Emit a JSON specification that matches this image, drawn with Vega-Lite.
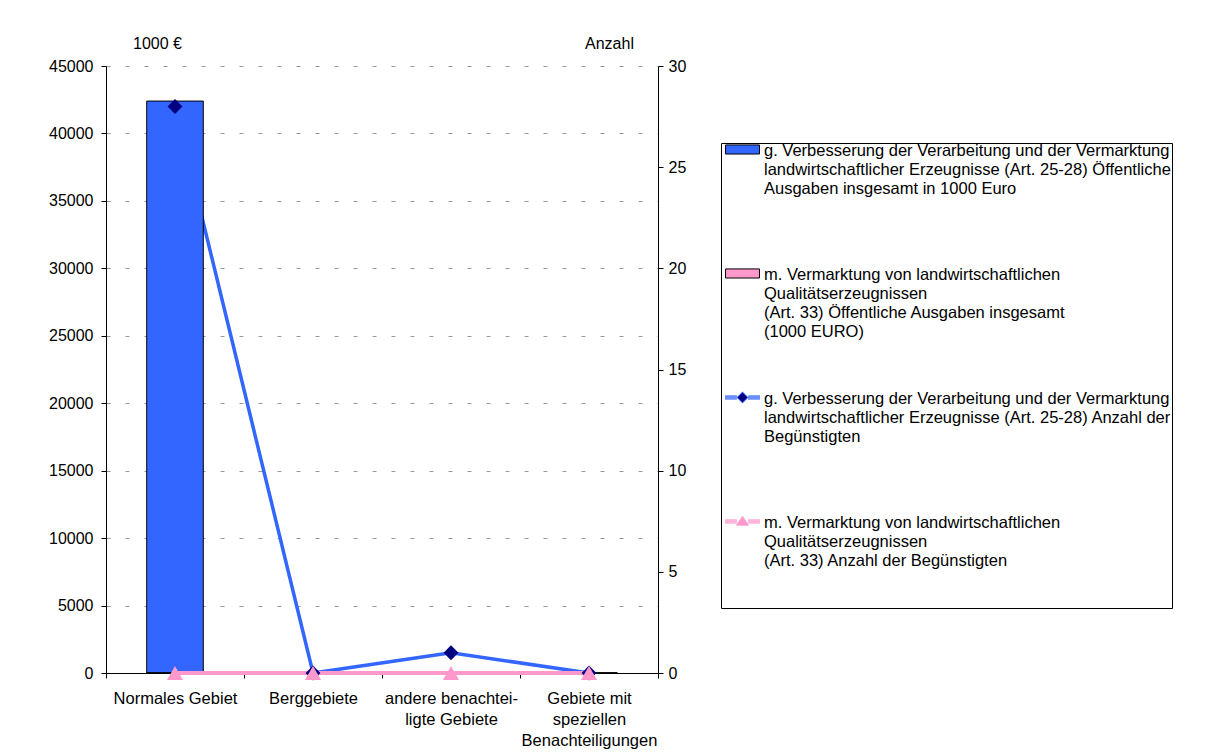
{
  "$schema": "https://vega.github.io/schema/vega-lite/v6.json",
  "width": 552,
  "height": 607,
  "autosize": {"type": "none"},
  "padding": {"left": 106, "top": 66, "right": 549, "bottom": 80},
  "background": "#ffffff",
  "config": {
    "font": "Liberation Sans",
    "view": {"stroke": null},
    "axis": {
      "labelFont": "Liberation Sans",
      "labelFontSize": 16,
      "labelColor": "#000000",
      "titleFont": "Liberation Sans",
      "titleFontSize": 16,
      "titleFontWeight": "normal",
      "titleColor": "#000000",
      "domainColor": "#000000",
      "tickColor": "#000000",
      "tickSize": 5,
      "domainWidth": 1,
      "tickWidth": 1
    }
  },
  "data": {
    "values": [
      {"gebiet": "Normales Gebiet", "programm": "g", "kennzahl": "Ausgaben", "reihe": "g. Verbesserung der Verarbeitung und der Vermarktung\nlandwirtschaftlicher Erzeugnisse (Art. 25-28) Öffentliche\nAusgaben insgesamt in 1000 Euro", "wert": 42400},
      {"gebiet": "Berggebiete", "programm": "g", "kennzahl": "Ausgaben", "reihe": "g. Verbesserung der Verarbeitung und der Vermarktung\nlandwirtschaftlicher Erzeugnisse (Art. 25-28) Öffentliche\nAusgaben insgesamt in 1000 Euro", "wert": 0},
      {"gebiet": "andere benachteiligte Gebiete", "programm": "g", "kennzahl": "Ausgaben", "reihe": "g. Verbesserung der Verarbeitung und der Vermarktung\nlandwirtschaftlicher Erzeugnisse (Art. 25-28) Öffentliche\nAusgaben insgesamt in 1000 Euro", "wert": 100},
      {"gebiet": "Gebiete mit speziellen Benachteiligungen", "programm": "g", "kennzahl": "Ausgaben", "reihe": "g. Verbesserung der Verarbeitung und der Vermarktung\nlandwirtschaftlicher Erzeugnisse (Art. 25-28) Öffentliche\nAusgaben insgesamt in 1000 Euro", "wert": 0},
      {"gebiet": "Normales Gebiet", "programm": "m", "kennzahl": "Ausgaben", "reihe": "m. Vermarktung von landwirtschaftlichen\nQualitätserzeugnissen\n(Art. 33) Öffentliche Ausgaben insgesamt\n(1000 EURO)", "wert": 0},
      {"gebiet": "Berggebiete", "programm": "m", "kennzahl": "Ausgaben", "reihe": "m. Vermarktung von landwirtschaftlichen\nQualitätserzeugnissen\n(Art. 33) Öffentliche Ausgaben insgesamt\n(1000 EURO)", "wert": 0},
      {"gebiet": "andere benachteiligte Gebiete", "programm": "m", "kennzahl": "Ausgaben", "reihe": "m. Vermarktung von landwirtschaftlichen\nQualitätserzeugnissen\n(Art. 33) Öffentliche Ausgaben insgesamt\n(1000 EURO)", "wert": 0},
      {"gebiet": "Gebiete mit speziellen Benachteiligungen", "programm": "m", "kennzahl": "Ausgaben", "reihe": "m. Vermarktung von landwirtschaftlichen\nQualitätserzeugnissen\n(Art. 33) Öffentliche Ausgaben insgesamt\n(1000 EURO)", "wert": 0},
      {"gebiet": "Normales Gebiet", "programm": "g", "kennzahl": "Anzahl", "reihe": "g. Verbesserung der Verarbeitung und der Vermarktung\nlandwirtschaftlicher Erzeugnisse (Art. 25-28) Anzahl der\nBegünstigten", "wert": 28},
      {"gebiet": "Berggebiete", "programm": "g", "kennzahl": "Anzahl", "reihe": "g. Verbesserung der Verarbeitung und der Vermarktung\nlandwirtschaftlicher Erzeugnisse (Art. 25-28) Anzahl der\nBegünstigten", "wert": 0},
      {"gebiet": "andere benachteiligte Gebiete", "programm": "g", "kennzahl": "Anzahl", "reihe": "g. Verbesserung der Verarbeitung und der Vermarktung\nlandwirtschaftlicher Erzeugnisse (Art. 25-28) Anzahl der\nBegünstigten", "wert": 1},
      {"gebiet": "Gebiete mit speziellen Benachteiligungen", "programm": "g", "kennzahl": "Anzahl", "reihe": "g. Verbesserung der Verarbeitung und der Vermarktung\nlandwirtschaftlicher Erzeugnisse (Art. 25-28) Anzahl der\nBegünstigten", "wert": 0},
      {"gebiet": "Normales Gebiet", "programm": "m", "kennzahl": "Anzahl", "reihe": "m. Vermarktung von landwirtschaftlichen\nQualitätserzeugnissen\n(Art. 33) Anzahl der Begünstigten", "wert": 0},
      {"gebiet": "Berggebiete", "programm": "m", "kennzahl": "Anzahl", "reihe": "m. Vermarktung von landwirtschaftlichen\nQualitätserzeugnissen\n(Art. 33) Anzahl der Begünstigten", "wert": 0},
      {"gebiet": "andere benachteiligte Gebiete", "programm": "m", "kennzahl": "Anzahl", "reihe": "m. Vermarktung von landwirtschaftlichen\nQualitätserzeugnissen\n(Art. 33) Anzahl der Begünstigten", "wert": 0},
      {"gebiet": "Gebiete mit speziellen Benachteiligungen", "programm": "m", "kennzahl": "Anzahl", "reihe": "m. Vermarktung von landwirtschaftlichen\nQualitätserzeugnissen\n(Art. 33) Anzahl der Begünstigten", "wert": 0}
    ]
  },
  "encoding": {
    "x": {
      "field": "gebiet",
      "type": "nominal",
      "sort": ["Normales Gebiet", "Berggebiete", "andere benachteiligte Gebiete", "Gebiete mit speziellen Benachteiligungen"],
      "scale": {"paddingInner": 0, "paddingOuter": 0},
      "axis": {
        "title": null,
        "labelAngle": 0,
        "tickBand": "extent",
        "labelPadding": 12,
        "labelFontSize": 16.5,
        "labelLineHeight": 21,
        "labelLimit": 300,
        "grid": false,
        "labelExpr": "datum.label == 'andere benachteiligte Gebiete' ? ['andere benachtei-', 'ligte Gebiete'] : datum.label == 'Gebiete mit speziellen Benachteiligungen' ? ['Gebiete mit', 'speziellen', 'Benachteiligungen'] : datum.label"
      }
    }
  },
  "layer": [
    {
      "transform": [{"filter": "datum.programm == 'g' && datum.kennzahl == 'Anzahl'"}],
      "mark": {"type": "line", "color": "#3366FF", "strokeWidth": 3.5},
      "encoding": {
        "y": {
          "field": "wert", "type": "quantitative",
          "scale": {"domain": [0, 30]},
          "axis": {"orient": "right", "title": "Anzahl", "values": [0, 5, 10, 15, 20, 25, 30], "grid": false, "titleAngle": 0, "titleX": -49, "titleY": -23, "titleAlign": "center", "titleBaseline": "middle", "labelPadding": 5}
        }
      }
    },
    {
      "transform": [{"filter": "datum.kennzahl == 'Ausgaben'"}],
      "mark": {"type": "bar", "stroke": "#000000", "strokeWidth": 1, "width": {"band": 0.41}},
      "encoding": {
        "y": {
          "field": "wert", "type": "quantitative",
          "scale": {"domain": [0, 45000]},
          "axis": {"orient": "left", "title": "1000 €", "format": "d", "values": [0, 5000, 10000, 15000, 20000, 25000, 30000, 35000, 40000, 45000], "grid": true, "gridDash": [4, 15], "gridColor": "#999999", "titleAngle": 0, "titleX": 51, "titleY": -23, "titleAlign": "center", "titleBaseline": "middle", "labelPadding": 8}
        },
        "fill": {
          "field": "reihe", "type": "nominal",
          "scale": {
            "domain": [
              "g. Verbesserung der Verarbeitung und der Vermarktung\nlandwirtschaftlicher Erzeugnisse (Art. 25-28) Öffentliche\nAusgaben insgesamt in 1000 Euro",
              "m. Vermarktung von landwirtschaftlichen\nQualitätserzeugnissen\n(Art. 33) Öffentliche Ausgaben insgesamt\n(1000 EURO)",
              "g. Verbesserung der Verarbeitung und der Vermarktung\nlandwirtschaftlicher Erzeugnisse (Art. 25-28) Anzahl der\nBegünstigten",
              "m. Vermarktung von landwirtschaftlichen\nQualitätserzeugnissen\n(Art. 33) Anzahl der Begünstigten"
            ],
            "range": ["#3366FF", "#FF99CC", "#000080", "#FF99CC"]
          },
          "legend": {
            "title": null,
            "orient": "none",
            "legendX": 615,
            "legendY": 77,
            "padding": 0,
            "strokeColor": "#000000",
            "fillColor": "#ffffff",
            "labelFont": "Liberation Sans",
            "labelFontSize": 16.5,
            "labelColor": "#000000",
            "labelBaseline": "top",
            "labelLimit": 460,
            "labelOffset": 7,
            "labelExpr": "split(datum.label + (datum.index == 3 ? '\\n \\n ' : ''), '\\n')",
            "symbolSize": 1225,
            "symbolStrokeWidth": 1,
            "symbolOpacity": 1,
            "rowPadding": 30,
            "gridAlign": "all",
            "direction": "vertical",
            "columns": 1,
            "encoding": {
              "symbols": {
                "y": {"value": 0},
                "shape": {
                  "condition": [
                    {"test": "datum.index == 2", "value": "M-0.8,0.28L-0.12,0.28M-0.8,0.34L-0.12,0.34M-0.8,0.4L-0.12,0.4M-0.8,0.46L-0.12,0.46M0.52,0.28L1.2,0.28M0.52,0.34L1.2,0.34M0.52,0.4L1.2,0.4M0.52,0.46L1.2,0.46M0.2,0.06L0.51,0.37L0.2,0.68L-0.11,0.37Z"},
                    {"test": "datum.index == 3", "value": "M-0.8,0.28L-0.12,0.28M-0.8,0.34L-0.12,0.34M-0.8,0.4L-0.12,0.4M-0.8,0.46L-0.12,0.46M0.52,0.28L1.2,0.28M0.52,0.34L1.2,0.34M0.52,0.4L1.2,0.4M0.52,0.46L1.2,0.46M0.2,0.08L0.54,0.58L-0.14,0.58Z"}
                  ],
                  "value": "M-0.77,0.11L1.17,0.11L1.17,0.63L-0.77,0.63Z"
                },
                "stroke": {
                  "condition": [
                    {"test": "datum.index == 2", "value": "#3366FF"},
                    {"test": "datum.index == 3", "value": "#FF99CC"}
                  ],
                  "value": "#000000"
                }
              },
              "labels": {
                "y": {"value": 0},
                "lineHeight": {"value": 19}
              }
            }
          }
        }
      }
    },
    {
      "transform": [{"filter": "datum.programm == 'm' && datum.kennzahl == 'Anzahl'"}],
      "mark": {"type": "line", "color": "#FF99CC", "strokeWidth": 4},
      "encoding": {
        "y": {"field": "wert", "type": "quantitative", "scale": {"domain": [0, 30]}, "axis": null}
      }
    },
    {
      "transform": [{"filter": "datum.programm == 'g' && datum.kennzahl == 'Anzahl'"}],
      "mark": {"type": "point", "shape": "diamond", "filled": true, "color": "#000080", "size": 220, "opacity": 1},
      "encoding": {
        "y": {"field": "wert", "type": "quantitative", "scale": {"domain": [0, 30]}, "axis": null}
      }
    },
    {
      "transform": [{"filter": "datum.programm == 'm' && datum.kennzahl == 'Anzahl'"}],
      "mark": {"type": "point", "shape": "triangle-up", "filled": true, "color": "#FF99CC", "size": 260, "opacity": 1},
      "encoding": {
        "y": {"field": "wert", "type": "quantitative", "scale": {"domain": [0, 30]}, "axis": null}
      }
    }
  ],
  "resolve": {"scale": {"y": "independent"}}
}
